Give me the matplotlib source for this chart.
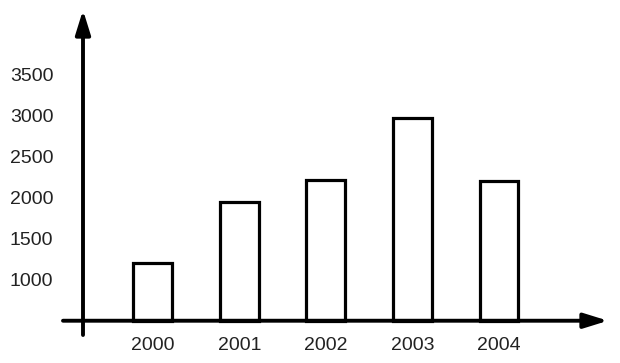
import matplotlib.pyplot as plt
import numpy as np

plt.rcParams["font.family"] = ["Liberation Sans", "DejaVu Sans"]

years = ["2000", "2001", "2002", "2003", "2004"]
values = [1200, 1950, 2220, 2975, 2200]
yticks = [1000, 1500, 2000, 2500, 3000, 3500]
baseline = 500

fig = plt.figure(figsize=(6.2, 3.63), dpi=100)
ax = fig.add_axes([63 / 620, 28 / 363, 545 / 620, 325 / 363])

x = np.arange(len(years))
ax.bar(x, np.array(values) - baseline, bottom=baseline, width=0.45,
       facecolor="white", edgecolor="black", linewidth=2.3, zorder=2)

xmin, xmax = -1.036, 5.259
ymin, ymax = 326, 4289
ax.set_xlim(xmin, xmax)
ax.set_ylim(ymin, ymax)

# hand-drawn style axes with arrows
arrow = dict(arrowstyle="-|>,head_length=1.45,head_width=0.45",
             color="black", linewidth=2.8, shrinkA=0, shrinkB=0)
ax.annotate("", xy=(xmax, baseline), xytext=(xmin, baseline),
            arrowprops=arrow, annotation_clip=False, zorder=3)
x_yaxis = -0.805
ax.annotate("", xy=(x_yaxis, ymax), xytext=(x_yaxis, ymin),
            arrowprops=arrow, annotation_clip=False, zorder=3)

for s in ax.spines.values():
    s.set_visible(False)
ax.set_yticks(yticks)
ax.set_yticklabels([str(t) for t in yticks])
ax.set_xticks(x)
ax.set_xticklabels(years)
ax.tick_params(axis="y", length=0, pad=7, labelsize=14, labelcolor="#222222")
ax.tick_params(axis="x", length=0, pad=1.5, labelsize=14, labelcolor="#222222")
ax.patch.set_alpha(0)

fig.savefig("out.png", dpi=100)
